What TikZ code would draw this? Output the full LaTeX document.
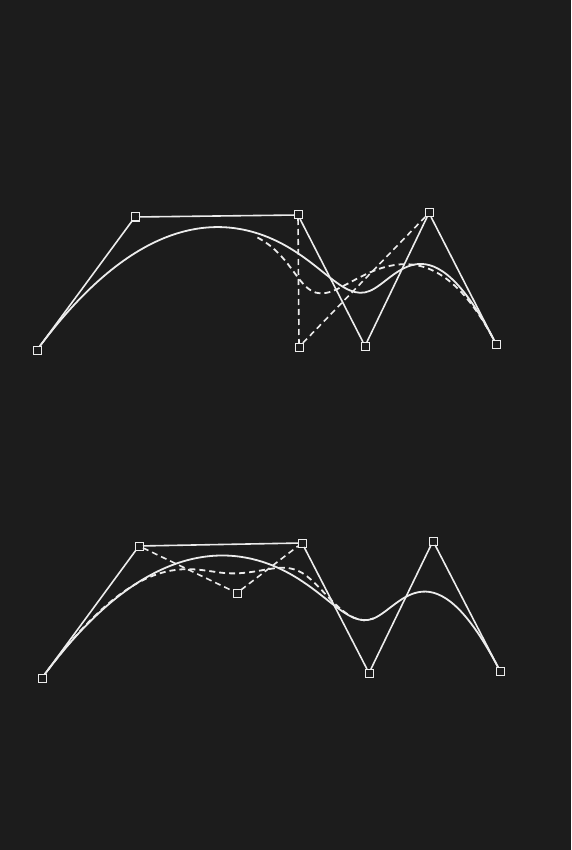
\documentclass[tikz,border=0pt]{standalone}
\usetikzlibrary{calc}
\definecolor{bg}{HTML}{1C1C1C}
\definecolor{ln}{HTML}{ECECEC}
\tikzset{
  cp/.style={draw=ln, fill=bg, line width=1pt, minimum size=8pt, inner sep=0pt, outer sep=0pt, shape=rectangle},
  poly/.style={draw=ln, line width=1.6pt},
  curve/.style={draw=ln, line width=1.8pt},
  dcurve/.style={draw=ln, line width=1.8pt, dash pattern=on 6pt off 4pt},
}
\begin{document}
\begin{tikzpicture}[x=1pt,y=-1pt]
\fill[bg] (0,0) rectangle (571,850);
\useasboundingbox (0,0) rectangle (571,850);
% ---------- top figure ----------
\coordinate (p0) at (37,350);
\coordinate (p1) at (135,217);
\coordinate (p2) at (298,215);
\coordinate (p3) at (365,346);
\coordinate (p4) at (429,213);
\coordinate (p5) at (496,344);
\coordinate (q)  at (299,347);
% solid B-spline
\coordinate (ta) at ($0.25*(p1)+0.58333*(p2)+0.16667*(p3)$);
\coordinate (tb) at ($0.16667*(p2)+0.58333*(p3)+0.25*(p4)$);
\draw[curve] (p0) .. controls (p1) and ($0.5*(p1)+0.5*(p2)$) .. (ta)
  .. controls ($0.66667*(p2)+0.33333*(p3)$) and ($0.33333*(p2)+0.66667*(p3)$) .. (tb)
  .. controls ($0.5*(p3)+0.5*(p4)$) and (p4) .. (p5);
% dashed B-spline (p3 moved to q)
\coordinate (ua) at ($0.25*(p1)+0.58333*(p2)+0.16667*(q)$);
\coordinate (ub) at ($0.16667*(p2)+0.58333*(q)+0.25*(p4)$);
\draw[dcurve] (ua)
  .. controls ($0.66667*(p2)+0.33333*(q)$) and ($0.33333*(p2)+0.66667*(q)$) .. (ub)
  .. controls ($0.5*(q)+0.5*(p4)$) and (p4) .. (p5);
\node[cp] (n0) at (p0) {};
\node[cp] (n1) at (p1) {};
\node[cp] (n2) at (p2) {};
\node[cp] (n3) at (p3) {};
\node[cp] (n4) at (p4) {};
\node[cp] (n5) at (p5) {};
\node[cp] (nq) at (q) {};
\draw[poly] (n0) -- (n1);
\draw[poly] (n1) -- (n2);
\draw[poly] (n2) -- (n3);
\draw[poly] (n3) -- (n4);
\draw[poly] (n4) -- (n5);
\draw[poly, dash pattern=on 6pt off 4pt] (n2) -- (nq);
\draw[poly, dash pattern=on 6pt off 4pt] (nq) -- (n4);
% ---------- bottom figure ----------
\coordinate (r0) at (42,678);
\coordinate (r1) at (139,546);
\coordinate (r2) at (302,543);
\coordinate (r3) at (369,673);
\coordinate (r4) at (433,541);
\coordinate (r5) at (500,671);
\coordinate (s)  at (237,593);
\coordinate (va) at ($0.25*(r1)+0.58333*(r2)+0.16667*(r3)$);
\coordinate (vb) at ($0.16667*(r2)+0.58333*(r3)+0.25*(r4)$);
\draw[curve] (r0) .. controls (r1) and ($0.5*(r1)+0.5*(r2)$) .. (va)
  .. controls ($0.66667*(r2)+0.33333*(r3)$) and ($0.33333*(r2)+0.66667*(r3)$) .. (vb)
  .. controls ($0.5*(r3)+0.5*(r4)$) and (r4) .. (r5);
% dashed B-spline with inserted point s
\coordinate (wa) at ($0.25*(r1)+0.58333*(s)+0.16667*(r2)$);
\coordinate (wb) at ($0.16667*(s)+0.66667*(r2)+0.16667*(r3)$);
\draw[dcurve] (r0) .. controls (r1) and ($0.5*(r1)+0.5*(s)$) .. (wa)
  .. controls ($0.66667*(s)+0.33333*(r2)$) and ($0.33333*(s)+0.66667*(r2)$) .. (wb)
  .. controls ($0.66667*(r2)+0.33333*(r3)$) and ($0.33333*(r2)+0.66667*(r3)$) .. (vb);
\node[cp] (m0) at (r0) {};
\node[cp] (m1) at (r1) {};
\node[cp] (m2) at (r2) {};
\node[cp] (m3) at (r3) {};
\node[cp] (m4) at (r4) {};
\node[cp] (m5) at (r5) {};
\node[cp] (ms) at (s) {};
\draw[poly] (m0) -- (m1);
\draw[poly] (m1) -- (m2);
\draw[poly] (m2) -- (m3);
\draw[poly] (m3) -- (m4);
\draw[poly] (m4) -- (m5);
\draw[poly, dash pattern=on 6pt off 4pt] (m1) -- (ms);
\draw[poly, dash pattern=on 6pt off 4pt] (ms) -- (m2);
\end{tikzpicture}
\end{document}
